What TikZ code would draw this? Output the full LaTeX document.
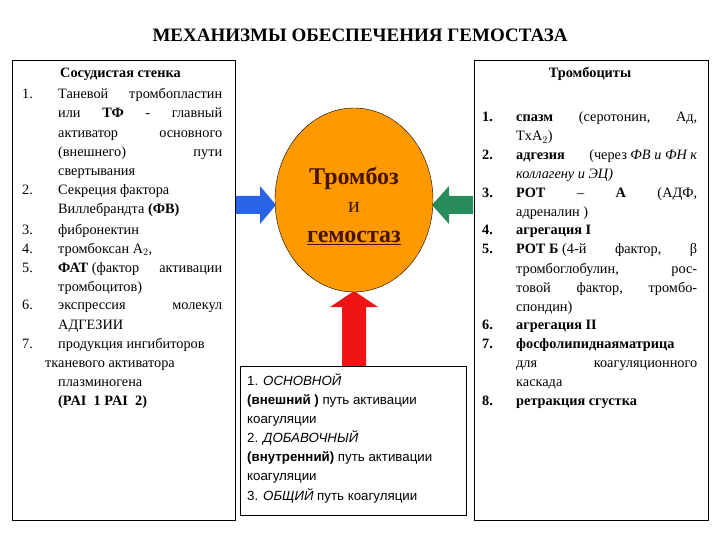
\documentclass[tikz,border=0pt]{standalone}
\usepackage{fontspec}
\setmainfont{Liberation Serif}
\setsansfont{Liberation Sans}
\definecolor{ablue}{RGB}{40,100,230}
\definecolor{agreen}{RGB}{40,140,90}
\definecolor{ared}{RGB}{240,20,20}
\definecolor{aorange}{RGB}{255,153,0}
\definecolor{abrown}{RGB}{70,20,0}
\begin{document}
\begin{tikzpicture}[x=1pt,y=-1pt,
  tx/.style={anchor=base west,inner sep=0pt,font=\fontsize{14.3}{16}\selectfont},
  bx/.style={draw=black,line width=0.8pt}]
\useasboundingbox (0,0) rectangle (720,540);
\node[anchor=base,font=\bfseries\fontsize{19}{22}\selectfont] (title) at (360,42) {МЕХАНИЗМЫ ОБЕСПЕЧЕНИЯ ГЕМОСТАЗА};
\draw[bx] (12,60) rectangle (235,520);
\draw[bx] (474,60) rectangle (708,520);
% arrows
\fill[ablue] (236,196) -- (260,196) -- (260,186) -- (276,205) -- (260,224) -- (260,214) -- (236,214) -- cycle;
\fill[agreen] (473,196) -- (449,196) -- (449,186) -- (432,205) -- (449,224) -- (449,214) -- (473,214) -- cycle;
\fill[ared] (342,366) -- (342,307) -- (330,307) -- (354,291) -- (378,307) -- (366,307) -- (366,366) -- cycle;
\draw[fill=aorange] (354,200) ellipse [x radius=79, y radius=92];
\begin{scope}[every node/.style={anchor=base,text=abrown,font=\bfseries\fontsize{24}{28}\selectfont}]
\node (t1) at (354,185) {Тромбоз};
\node[font=\fontsize{22}{26}\selectfont] (t2) at (354,213) {и};
\node (t3) at (354,243) {\underline{гемостаз}};
\end{scope}
\draw[bx] (240,366) rectangle (466,515);
% left text
\begin{scope}[every node/.style={tx}]
\node at (60,78) {\bfseries Сосудистая стенка};
\node at (22,99) {1.};\node at (58,99) {\hbox to 164pt{Таневой\hfill тромбопластин}};
\node at (58,118) {\hbox to 164pt{или\hfill\textbf{ТФ}\hfill-\hfill главный}};
\node at (58,138) {\hbox to 164pt{активатор\hfill основного}};
\node at (58,157) {\hbox to 164pt{(внешнего)\hfill пути}};
\node at (58,176) {свертывания};
\node at (22,195) {2.};\node at (58,195) {Секреция фактора};
\node at (58,214) {Виллебрандта \textbf{(ФВ)}};
\node at (22,234) {3.};\node at (58,234) {фибронектин};
\node at (22,253) {4.};\node at (58,253) {тромбоксан A$_2$,};
\node at (22,272) {5.};\node at (58,272) {\hbox to 164pt{\textbf{ФАТ} (фактор\hfill активации}};
\node at (58,291) {тромбоцитов)};
\node at (22,309) {6.};\node at (58,309) {\hbox to 164pt{экспрессия\hfill молекул}};
\node at (58,329) {АДГЕЗИИ};
\node at (22,348) {7.};\node at (58,348) {продукция ингибиторов};
\node at (45,367) {тканевого активатора};
\node at (58,386) {плазминогена};
\node at (58,405) {\bfseries (PAI\ \ 1 PAI\ \ 2)};
% right text
\node[anchor=base] at (590,78) {\bfseries Тромбоциты};
\node at (482,122) {\bfseries 1.};\node at (516,122) {\hbox to 181pt{\textbf{спазм}\hfill (серотонин,\hfill Ад,}};
\node at (516,141) {TxA$_2$)};
\node at (482,160) {\bfseries 2.};\node at (516,160) {\hbox to 181pt{\textbf{адгезия}\hfill(через \textit{ФВ и ФН к}}};
\node at (516,179) {\textit{коллагену и ЭЦ)}};
\node at (482,197) {\bfseries 3.};\node at (516,197) {\hbox to 181pt{\textbf{РОТ}\hfill –\hfill \textbf{А}\hfill (АДФ,}};
\node at (516,216) {адреналин )};
\node at (482,235) {\bfseries 4.};\node at (516,235) {\bfseries агрегация I};
\node at (482,253) {\bfseries 5.};\node at (516,253) {\hbox to 181pt{\textbf{РОТ Б} (4-й\hfill фактор,\hfill β}};
\node at (516,273) {\hbox to 181pt{тромбоглобулин,\hfill рос-}};
\node at (516,292) {\hbox to 181pt{товой\hfill фактор,\hfill тромбо-}};
\node at (516,311) {спондин)};
\node at (482,329) {\bfseries 6.};\node at (516,329) {\bfseries агрегация II};
\node at (482,348) {\bfseries 7.};\node at (516,348) {\bfseries фосфолипиднаяматрица};
\node at (516,367) {\hbox to 181pt{для\hfill коагуляционного}};
\node at (516,386) {каскада};
\node at (482,405) {\bfseries 8.};\node at (516,405) {\bfseries ретракция сгустка};
\end{scope}
\begin{scope}[every node/.style={tx,font=\sffamily\fontsize{13.3}{15}\selectfont}]
\node at (247,385) {1. \textit{ОСНОВНОЙ}};
\node at (247,404) {\textbf{(внешний )} путь активации};
\node at (247,423) {коагуляции};
\node at (247,442) {2. \textit{ДОБАВОЧНЫЙ}};
\node at (247,461) {\textbf{(внутренний)} путь активации};
\node at (247,480) {коагуляции};
\node at (247,500) {3. \textit{ОБЩИЙ} путь коагуляции};
\end{scope}
\end{tikzpicture}
\end{document}
